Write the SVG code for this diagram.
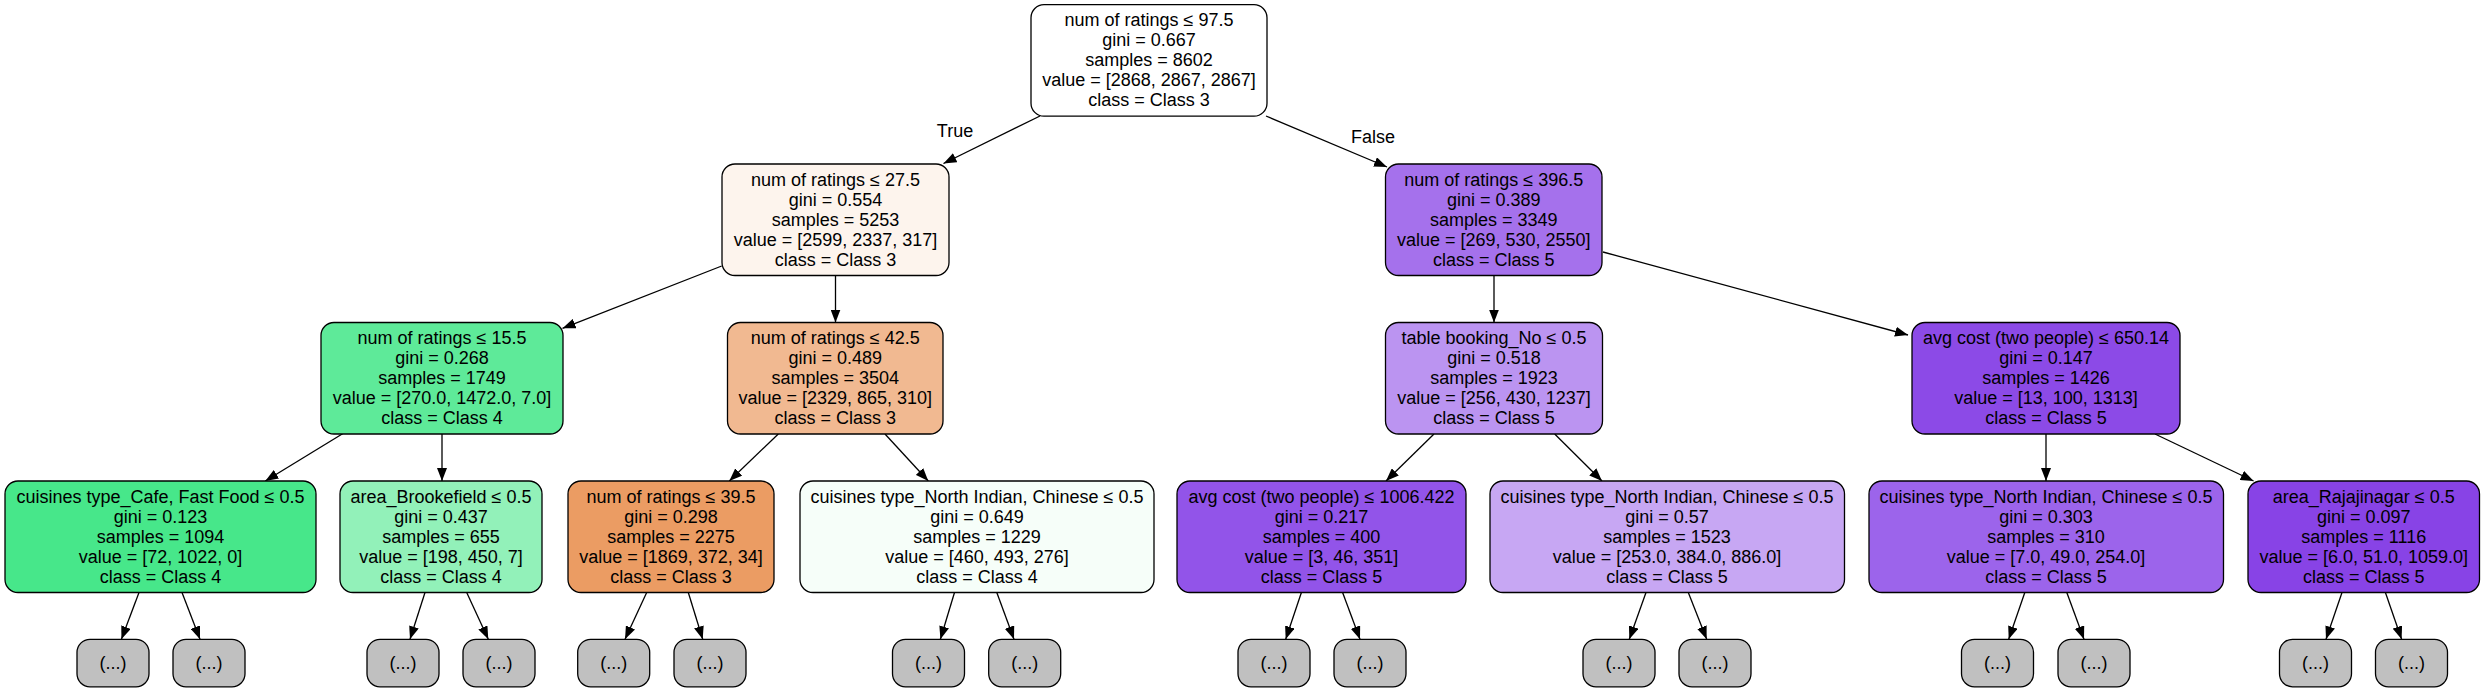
<svg xmlns="http://www.w3.org/2000/svg" width="2484" height="693" viewBox="0 0 2484 693">
<style>
.box{stroke:#000;stroke-width:1.3}
.leaf{fill:#c0c0c0;stroke:#000;stroke-width:1.3}
text{font-family:"Liberation Sans",Arial,Helvetica,sans-serif;font-size:18px;fill:#000;text-anchor:middle}
.e{stroke:#000;stroke-width:1.3;fill:none;marker-end:url(#ah)}
</style>
<defs>
<marker id="ah" markerUnits="userSpaceOnUse" markerWidth="14" markerHeight="10" refX="13" refY="5" orient="auto">
<path d="M0,0 L13,5 L0,10 z" fill="#000"/>
</marker>
</defs>
<rect width="2484" height="693" fill="#fff"/>
<g id="connectors">
<line class="e" x1="1040" y1="116" x2="943.5" y2="163.5"/>
<line class="e" x1="1266" y1="116" x2="1387" y2="167"/>
<line class="e" x1="721.7" y1="266" x2="562.5" y2="328.3"/>
<line class="e" x1="835.5" y1="275.5" x2="835.5" y2="322.5"/>
<line class="e" x1="1494" y1="275.5" x2="1494" y2="322.5"/>
<line class="e" x1="1603" y1="252" x2="1908" y2="335"/>
<line class="e" x1="343" y1="433.5" x2="265.3" y2="481"/>
<line class="e" x1="442" y1="434" x2="442" y2="481"/>
<line class="e" x1="778.3" y1="434" x2="729.3" y2="481"/>
<line class="e" x1="885" y1="434" x2="928.3" y2="481"/>
<line class="e" x1="1434" y1="434" x2="1386" y2="481"/>
<line class="e" x1="1554.7" y1="434" x2="1602" y2="481"/>
<line class="e" x1="2046" y1="434" x2="2046" y2="481"/>
<line class="e" x1="2155" y1="434" x2="2253.6" y2="481"/>
<line class="e" x1="139" y1="592.5" x2="121.4" y2="639.3"/>
<line class="e" x1="182" y1="592.5" x2="200" y2="639.3"/>
<line class="e" x1="425" y1="592.5" x2="410" y2="639.3"/>
<line class="e" x1="466.7" y1="592.5" x2="488.3" y2="639.3"/>
<line class="e" x1="646.7" y1="592.5" x2="625" y2="639.3"/>
<line class="e" x1="688.3" y1="592.5" x2="702.7" y2="639.3"/>
<line class="e" x1="954.5" y1="592.5" x2="940.4" y2="639.3"/>
<line class="e" x1="996.8" y1="592.5" x2="1014" y2="639.3"/>
<line class="e" x1="1301.4" y1="592.5" x2="1285.7" y2="639.3"/>
<line class="e" x1="1342.6" y1="592.5" x2="1360" y2="639.3"/>
<line class="e" x1="1646" y1="592.5" x2="1629.3" y2="639.3"/>
<line class="e" x1="1688.3" y1="592.5" x2="1706.7" y2="639.3"/>
<line class="e" x1="2024.8" y1="592.5" x2="2008.7" y2="639.3"/>
<line class="e" x1="2066.8" y1="592.5" x2="2084" y2="639.3"/>
<line class="e" x1="2342" y1="592.5" x2="2326" y2="639.3"/>
<line class="e" x1="2385.4" y1="592.5" x2="2401.6" y2="639.3"/>
<text x="955" y="137">True</text>
<text x="1373" y="143">False</text>
</g>
<g id="n0">
<rect class="box" x="1031" y="4.7" width="236" height="111.5" rx="13" fill="#ffffff"/>
<text x="1149" y="26.2">num of ratings ≤ 97.5</text>
<text x="1149" y="46.2">gini = 0.667</text>
<text x="1149" y="66.2">samples = 8602</text>
<text x="1149" y="86.2">value = [2868, 2867, 2867]</text>
<text x="1149" y="106.2">class = Class 3</text>
</g>
<g id="n1">
<rect class="box" x="722" y="164" width="227" height="111.5" rx="13" fill="#fdf4ed"/>
<text x="835.5" y="185.5">num of ratings ≤ 27.5</text>
<text x="835.5" y="205.5">gini = 0.554</text>
<text x="835.5" y="225.5">samples = 5253</text>
<text x="835.5" y="245.5">value = [2599, 2337, 317]</text>
<text x="835.5" y="265.5">class = Class 3</text>
</g>
<g id="n2">
<rect class="box" x="1385.5" y="164" width="216.5" height="111.5" rx="13" fill="#a571ec"/>
<text x="1493.75" y="185.5">num of ratings ≤ 396.5</text>
<text x="1493.75" y="205.5">gini = 0.389</text>
<text x="1493.75" y="225.5">samples = 3349</text>
<text x="1493.75" y="245.5">value = [269, 530, 2550]</text>
<text x="1493.75" y="265.5">class = Class 5</text>
</g>
<g id="n3">
<rect class="box" x="321" y="322.5" width="242" height="111.5" rx="13" fill="#5eea99"/>
<text x="442" y="344">num of ratings ≤ 15.5</text>
<text x="442" y="364">gini = 0.268</text>
<text x="442" y="384">samples = 1749</text>
<text x="442" y="404">value = [270.0, 1472.0, 7.0]</text>
<text x="442" y="424">class = Class 4</text>
</g>
<g id="n4">
<rect class="box" x="727.5" y="322.5" width="215.5" height="111.5" rx="13" fill="#f1b991"/>
<text x="835.25" y="344">num of ratings ≤ 42.5</text>
<text x="835.25" y="364">gini = 0.489</text>
<text x="835.25" y="384">samples = 3504</text>
<text x="835.25" y="404">value = [2329, 865, 310]</text>
<text x="835.25" y="424">class = Class 3</text>
</g>
<g id="n5">
<rect class="box" x="1385.5" y="322.5" width="217" height="111.5" rx="13" fill="#bb94f1"/>
<text x="1494" y="344">table booking_No ≤ 0.5</text>
<text x="1494" y="364">gini = 0.518</text>
<text x="1494" y="384">samples = 1923</text>
<text x="1494" y="404">value = [256, 430, 1237]</text>
<text x="1494" y="424">class = Class 5</text>
</g>
<g id="n6">
<rect class="box" x="1912" y="322.5" width="268" height="111.5" rx="13" fill="#8c4ae7"/>
<text x="2046" y="344">avg cost (two people) ≤ 650.14</text>
<text x="2046" y="364">gini = 0.147</text>
<text x="2046" y="384">samples = 1426</text>
<text x="2046" y="404">value = [13, 100, 1313]</text>
<text x="2046" y="424">class = Class 5</text>
</g>
<g id="n7">
<rect class="box" x="5" y="481" width="311" height="111.5" rx="13" fill="#47e78a"/>
<text x="160.5" y="502.5">cuisines type_Cafe, Fast Food ≤ 0.5</text>
<text x="160.5" y="522.5">gini = 0.123</text>
<text x="160.5" y="542.5">samples = 1094</text>
<text x="160.5" y="562.5">value = [72, 1022, 0]</text>
<text x="160.5" y="582.5">class = Class 4</text>
</g>
<g id="n8">
<rect class="box" x="340" y="481" width="202" height="111.5" rx="13" fill="#92f1b9"/>
<text x="441" y="502.5">area_Brookefield ≤ 0.5</text>
<text x="441" y="522.5">gini = 0.437</text>
<text x="441" y="542.5">samples = 655</text>
<text x="441" y="562.5">value = [198, 450, 7]</text>
<text x="441" y="582.5">class = Class 4</text>
</g>
<g id="n9">
<rect class="box" x="568" y="481" width="206" height="111.5" rx="13" fill="#eb9c63"/>
<text x="671" y="502.5">num of ratings ≤ 39.5</text>
<text x="671" y="522.5">gini = 0.298</text>
<text x="671" y="542.5">samples = 2275</text>
<text x="671" y="562.5">value = [1869, 372, 34]</text>
<text x="671" y="582.5">class = Class 3</text>
</g>
<g id="n10">
<rect class="box" x="800" y="481" width="354" height="111.5" rx="13" fill="#f6fef9"/>
<text x="977" y="502.5">cuisines type_North Indian, Chinese ≤ 0.5</text>
<text x="977" y="522.5">gini = 0.649</text>
<text x="977" y="542.5">samples = 1229</text>
<text x="977" y="562.5">value = [460, 493, 276]</text>
<text x="977" y="582.5">class = Class 4</text>
</g>
<g id="n11">
<rect class="box" x="1177" y="481" width="289" height="111.5" rx="13" fill="#9254e9"/>
<text x="1321.5" y="502.5">avg cost (two people) ≤ 1006.422</text>
<text x="1321.5" y="522.5">gini = 0.217</text>
<text x="1321.5" y="542.5">samples = 400</text>
<text x="1321.5" y="562.5">value = [3, 46, 351]</text>
<text x="1321.5" y="582.5">class = Class 5</text>
</g>
<g id="n12">
<rect class="box" x="1490" y="481" width="354.5" height="111.5" rx="13" fill="#c7a7f3"/>
<text x="1667" y="502.5">cuisines type_North Indian, Chinese ≤ 0.5</text>
<text x="1667" y="522.5">gini = 0.57</text>
<text x="1667" y="542.5">samples = 1523</text>
<text x="1667" y="562.5">value = [253.0, 384.0, 886.0]</text>
<text x="1667" y="582.5">class = Class 5</text>
</g>
<g id="n13">
<rect class="box" x="1869" y="481" width="354.5" height="111.5" rx="13" fill="#9c64eb"/>
<text x="2046" y="502.5">cuisines type_North Indian, Chinese ≤ 0.5</text>
<text x="2046" y="522.5">gini = 0.303</text>
<text x="2046" y="542.5">samples = 310</text>
<text x="2046" y="562.5">value = [7.0, 49.0, 254.0]</text>
<text x="2046" y="582.5">class = Class 5</text>
</g>
<g id="n14">
<rect class="box" x="2248" y="481" width="231.5" height="111.5" rx="13" fill="#8843e6"/>
<text x="2363.75" y="502.5">area_Rajajinagar ≤ 0.5</text>
<text x="2363.75" y="522.5">gini = 0.097</text>
<text x="2363.75" y="542.5">samples = 1116</text>
<text x="2363.75" y="562.5">value = [6.0, 51.0, 1059.0]</text>
<text x="2363.75" y="582.5">class = Class 5</text>
</g>
<g id="l1"><rect class="leaf" x="77" y="639.3" width="72" height="47.5" rx="13"/><text x="113" y="669">(...)</text></g>
<g id="l2"><rect class="leaf" x="173" y="639.3" width="72" height="47.5" rx="13"/><text x="209" y="669">(...)</text></g>
<g id="l3"><rect class="leaf" x="367" y="639.3" width="72" height="47.5" rx="13"/><text x="403" y="669">(...)</text></g>
<g id="l4"><rect class="leaf" x="463" y="639.3" width="72" height="47.5" rx="13"/><text x="499" y="669">(...)</text></g>
<g id="l5"><rect class="leaf" x="577.7" y="639.3" width="72" height="47.5" rx="13"/><text x="613.7" y="669">(...)</text></g>
<g id="l6"><rect class="leaf" x="674" y="639.3" width="72" height="47.5" rx="13"/><text x="710" y="669">(...)</text></g>
<g id="l7"><rect class="leaf" x="892.5" y="639.3" width="72" height="47.5" rx="13"/><text x="928.5" y="669">(...)</text></g>
<g id="l8"><rect class="leaf" x="988.7" y="639.3" width="72" height="47.5" rx="13"/><text x="1024.7" y="669">(...)</text></g>
<g id="l9"><rect class="leaf" x="1238" y="639.3" width="72" height="47.5" rx="13"/><text x="1274" y="669">(...)</text></g>
<g id="l10"><rect class="leaf" x="1334" y="639.3" width="72" height="47.5" rx="13"/><text x="1370" y="669">(...)</text></g>
<g id="l11"><rect class="leaf" x="1583" y="639.3" width="72" height="47.5" rx="13"/><text x="1619" y="669">(...)</text></g>
<g id="l12"><rect class="leaf" x="1679" y="639.3" width="72" height="47.5" rx="13"/><text x="1715" y="669">(...)</text></g>
<g id="l13"><rect class="leaf" x="1961.5" y="639.3" width="72" height="47.5" rx="13"/><text x="1997.5" y="669">(...)</text></g>
<g id="l14"><rect class="leaf" x="2058" y="639.3" width="72" height="47.5" rx="13"/><text x="2094" y="669">(...)</text></g>
<g id="l15"><rect class="leaf" x="2279.5" y="639.3" width="72" height="47.5" rx="13"/><text x="2315.5" y="669">(...)</text></g>
<g id="l16"><rect class="leaf" x="2375.5" y="639.3" width="72" height="47.5" rx="13"/><text x="2411.5" y="669">(...)</text></g>
</svg>
